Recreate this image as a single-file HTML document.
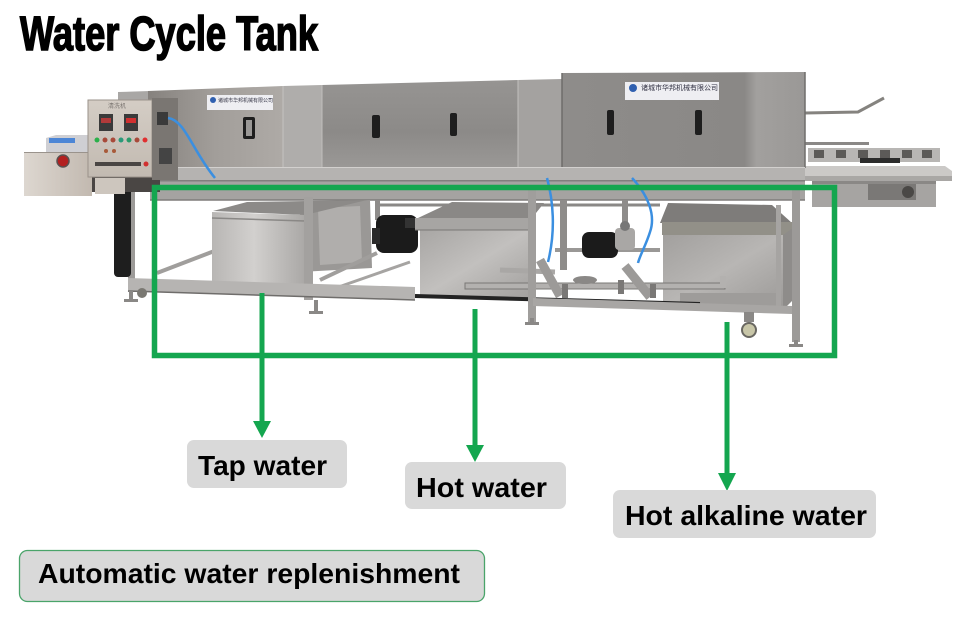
<!DOCTYPE html>
<html><head><meta charset="utf-8"><style>
html,body{margin:0;padding:0;background:#fff;}
svg{display:block;}
</style></head><body>
<svg width="955" height="621" viewBox="0 0 955 621" xmlns="http://www.w3.org/2000/svg">
<defs>
<linearGradient id="hoodA" x1="0" y1="0" x2="1" y2="0"><stop offset="0" stop-color="#86827e"/><stop offset="0.5" stop-color="#a29e9a"/><stop offset="1" stop-color="#aeaaa6"/></linearGradient>
<linearGradient id="hoodC" x1="0" y1="0" x2="0" y2="1"><stop offset="0" stop-color="#969492"/><stop offset="0.6" stop-color="#8c8a88"/><stop offset="1" stop-color="#9a9896"/></linearGradient>
<linearGradient id="hoodE" x1="0" y1="0" x2="1" y2="0"><stop offset="0" stop-color="#8e8c8a"/><stop offset="0.75" stop-color="#8a8886"/><stop offset="0.8" stop-color="#a2a09e"/><stop offset="1" stop-color="#9a9896"/></linearGradient>
<linearGradient id="tankL" x1="0" y1="0" x2="1" y2="0"><stop offset="0" stop-color="#b8b6b4"/><stop offset="0.45" stop-color="#d2d0ce"/><stop offset="1" stop-color="#aaa8a6"/></linearGradient>
<linearGradient id="tankM" x1="0" y1="0" x2="1" y2="1"><stop offset="0" stop-color="#a8a6a4"/><stop offset="0.5" stop-color="#c2c0be"/><stop offset="1" stop-color="#a2a09e"/></linearGradient>
<linearGradient id="tankR" x1="0" y1="0" x2="1" y2="1"><stop offset="0" stop-color="#a2a09e"/><stop offset="0.5" stop-color="#b8b6b4"/><stop offset="1" stop-color="#9c9a98"/></linearGradient>
<linearGradient id="panelG" x1="0" y1="0" x2="0" y2="1"><stop offset="0" stop-color="#d4cdc5"/><stop offset="1" stop-color="#c2bab1"/></linearGradient>
<linearGradient id="boxG" x1="0" y1="0" x2="1" y2="0"><stop offset="0" stop-color="#ddd7d0"/><stop offset="1" stop-color="#c2b9b0"/></linearGradient>
</defs>

<!-- Right conveyor extension -->
<polyline points="805,113 858,112 884,98" fill="none" stroke="#85837f" stroke-width="3"/>
<rect x="805" y="142" width="64" height="3" fill="#8a8886"/>
<rect x="808" y="148" width="132" height="14" fill="#b8b6b4"/>
<g fill="#5c5a58">
<rect x="814" y="150" width="10" height="8"/><rect x="836" y="150" width="10" height="8"/><rect x="858" y="150" width="10" height="8"/><rect x="880" y="150" width="10" height="8"/><rect x="902" y="150" width="10" height="8"/><rect x="922" y="150" width="10" height="8"/>
</g>
<rect x="860" y="158" width="40" height="5" fill="#2c2c2c"/>
<polygon points="800,166 945,166 952,171 952,181 800,181" fill="#cbc9c7"/>
<rect x="800" y="176" width="152" height="5" fill="#a9a7a5"/>
<rect x="812" y="181" width="124" height="26" fill="#a6a4a2"/>
<rect x="812" y="181" width="124" height="3" fill="#8a8886"/>
<rect x="868" y="184" width="48" height="16" fill="#7a7876"/>
<circle cx="908" cy="192" r="6" fill="#4a4846"/>

<!-- Hood -->
<polygon points="118,92 150,91 150,100 118,100" fill="#a9a7a5"/>
<polygon points="148,91 283,86 283,167 148,167" fill="url(#hoodA)"/>
<polygon points="283,86 322,85 322,167 283,167" fill="#afadab"/>
<polygon points="322,85 518,80 518,167 322,167" fill="url(#hoodC)"/>
<polygon points="518,80 562,79 562,167 518,167" fill="#a4a2a0"/>
<polygon points="562,73 805,72 805,168 562,168" fill="url(#hoodE)"/>
<line x1="562" y1="73" x2="562" y2="168" stroke="#6f6d6b" stroke-width="1.5"/>
<line x1="805" y1="72" x2="805" y2="168" stroke="#6f6d6b" stroke-width="1.5"/>
<line x1="283" y1="86" x2="283" y2="167" stroke="#c4c2c0" stroke-width="1"/>
<line x1="322" y1="85" x2="322" y2="167" stroke="#c0bebc" stroke-width="1"/>
<line x1="518" y1="80" x2="518" y2="167" stroke="#c2c0be" stroke-width="1"/>
<!-- logo plates -->
<rect x="207" y="95" width="66" height="15" fill="#eeeef2"/>
<circle cx="213" cy="100" r="3" fill="#3060b0"/>
<text x="218" y="102" font-family="Noto Sans CJK SC, sans-serif" font-size="5" fill="#334">诸城市华邦机械有限公司</text>
<rect x="625" y="82" width="94" height="18" fill="#eeeef2"/>
<circle cx="633" cy="88" r="4" fill="#3060b0"/>
<text x="641" y="90" font-family="Noto Sans CJK SC, sans-serif" font-size="7" fill="#334">诸城市华邦机械有限公司</text>
<!-- handles -->
<g fill="#1e1e1e">
<rect x="243" y="117" width="12" height="22" rx="2"/>
<rect x="372" y="115" width="8" height="23" rx="2"/>
<rect x="450" y="113" width="7" height="23" rx="2"/>
<rect x="607" y="110" width="7" height="25" rx="2"/>
<rect x="695" y="110" width="7" height="25" rx="2"/>
</g>
<rect x="246" y="120" width="6" height="16" fill="#9a9896"/>

<!-- Rail under hood -->
<rect x="140" y="167" width="665" height="14" fill="#b5b3b1"/>
<line x1="140" y1="167.5" x2="805" y2="167.5" stroke="#d2d0ce" stroke-width="1"/>
<line x1="140" y1="181" x2="805" y2="181" stroke="#6e6c6a" stroke-width="1.5"/>
<rect x="150" y="182" width="655" height="18" fill="#a5a3a1"/>
<line x1="150" y1="200" x2="805" y2="200" stroke="#7e7c7a" stroke-width="1.5"/>

<!-- back structure -->
<line x1="377" y1="205" x2="660" y2="205" stroke="#8a8886" stroke-width="3"/>
<line x1="555" y1="250" x2="660" y2="250" stroke="#9a9896" stroke-width="4"/>
<rect x="560" y="200" width="7" height="70" fill="#8e8c8a"/>
<rect x="622" y="200" width="6" height="40" fill="#8e8c8a"/>
<rect x="375" y="200" width="5" height="20" fill="#8e8c8a"/>

<!-- Left tank back/side -->
<polygon points="300,203 370,200 372,268 300,272" fill="#9a9896"/>
<polygon points="318,208 360,206 362,262 320,265" fill="#b0aeac"/>
<!-- diagonal frame rails -->
<line x1="157" y1="273" x2="217" y2="250" stroke="#a09e9c" stroke-width="4"/>
<line x1="320" y1="280" x2="377" y2="253" stroke="#a09e9c" stroke-width="4"/>
<line x1="330" y1="290" x2="410" y2="262" stroke="#a6a4a2" stroke-width="3"/>
<!-- Left tank -->
<polygon points="213,211 247,202 367,200 305,215" fill="#8c8a88"/>
<polygon points="212,212 305,215 305,287 212,282" fill="url(#tankL)"/>
<line x1="212" y1="218" x2="305" y2="221" stroke="#8a8886" stroke-width="1.5"/>

<!-- Motor 1 -->
<rect x="376" y="215" width="42" height="38" rx="8" fill="#1b1b1b"/>
<rect x="372" y="228" width="8" height="16" fill="#2a2a2a"/>
<rect x="405" y="218" width="14" height="10" fill="#333"/>

<!-- Middle tank -->
<polygon points="418,218 452,202 544,203 532,218" fill="#8a8886"/>
<rect x="415" y="218" width="118" height="12" fill="#a7a5a3"/>
<rect x="420" y="230" width="110" height="68" fill="url(#tankM)"/>
<line x1="415" y1="230" x2="533" y2="230" stroke="#7a7876" stroke-width="1"/>

<!-- Right tank -->
<polygon points="668,203 772,205 792,223 660,223" fill="#7e7c7a"/>
<rect x="662" y="222" width="130" height="13" fill="#929088"/>
<rect x="663" y="235" width="120" height="72" fill="url(#tankR)"/>
<polygon points="783,235 793,228 793,300 783,310" fill="#8e8c8a"/>
<rect x="680" y="293" width="100" height="15" fill="#9e9c9a"/>

<!-- Motor 2 and valves -->
<rect x="582" y="232" width="36" height="26" rx="7" fill="#1b1b1b"/>
<rect x="615" y="228" width="20" height="22" rx="4" fill="#a9a7a5"/>
<circle cx="625" cy="226" r="5" fill="#777"/>
<!-- pipes -->
<rect x="465" y="283" width="260" height="6" fill="#b3b1af" stroke="#7a7876" stroke-width="1"/>
<rect x="720" y="276" width="6" height="12" fill="#b3b1af"/>
<line x1="500" y1="270" x2="555" y2="272" stroke="#a9a7a5" stroke-width="5"/>
<line x1="540" y1="260" x2="560" y2="296" stroke="#9c9a98" stroke-width="9"/>
<line x1="625" y1="266" x2="650" y2="297" stroke="#9c9a98" stroke-width="9"/>
<ellipse cx="585" cy="280" rx="12" ry="4" fill="#8a8886"/>
<g fill="#7a7876">
<rect x="528" y="278" width="6" height="14"/><rect x="562" y="284" width="6" height="14"/>
<rect x="618" y="280" width="6" height="14"/><rect x="650" y="284" width="6" height="14"/>
</g>
<!-- black cable along bottom -->
<polyline points="415,296 560,300 700,304" fill="none" stroke="#232323" stroke-width="4"/>

<!-- front posts / legs -->
<rect x="128" y="180" width="7" height="112" fill="#9c9a98"/>
<rect x="304" y="197" width="9" height="103" fill="#a3a19f"/>
<rect x="528" y="190" width="8" height="132" fill="#a09e9c"/>
<rect x="792" y="190" width="8" height="152" fill="#9c9a98"/>
<rect x="776" y="205" width="5" height="105" fill="#a6a4a2"/>
<!-- front bottom rail -->
<polygon points="128,278 415,287 415,300 128,291" fill="#b6b4b2"/>
<line x1="128" y1="291" x2="415" y2="300" stroke="#6f6d6b" stroke-width="1.5"/>
<polygon points="533,298 792,306 792,314 533,306" fill="#a8a6a4"/>
<!-- feet -->
<g fill="#8a8886">
<rect x="129" y="291" width="4" height="10"/><rect x="124" y="299" width="14" height="3"/>
<rect x="314" y="300" width="4" height="12"/><rect x="309" y="311" width="14" height="3"/>
<rect x="530" y="318" width="4" height="6"/><rect x="525" y="322" width="14" height="3"/>
<rect x="794" y="340" width="4" height="5"/><rect x="789" y="344" width="14" height="3"/>
</g>
<!-- casters -->
<circle cx="142" cy="293" r="5" fill="#7a7872"/>
<rect x="744" y="312" width="10" height="10" fill="#8a8886"/>
<circle cx="749" cy="330" r="7" fill="#c8c6a8" stroke="#6a6862" stroke-width="2"/>

<!-- Blue hoses -->
<path d="M547,178 C553,200 556,230 548,262" fill="none" stroke="#3b8fe0" stroke-width="2.5"/>
<path d="M632,178 C648,195 656,215 650,232 C646,245 640,255 638,263" fill="none" stroke="#3b8fe0" stroke-width="2.5"/>

<!-- Left control area -->
<rect x="114" y="183" width="17" height="94" rx="4" fill="#1e1e1e"/>
<rect x="92" y="176" width="68" height="16" fill="#4a4644"/>
<rect x="95" y="178" width="30" height="16" fill="#cdc6be"/>
<!-- left box -->
<polygon points="46,138 56,135 90,135 90,153 46,153" fill="#cfcfd3"/>
<rect x="49" y="138" width="26" height="5" fill="#4c86d6"/>
<rect x="24" y="152" width="68" height="44" fill="url(#boxG)"/>
<line x1="24" y1="152.5" x2="92" y2="152.5" stroke="#9a938c" stroke-width="1"/>
<circle cx="63" cy="161" r="6" fill="#b32020" stroke="#5a5050" stroke-width="1.5"/>
<!-- panel -->
<rect x="88" y="100" width="64" height="77" fill="url(#panelG)" stroke="#9a928a" stroke-width="1"/>
<text x="108" y="108" font-family="Noto Sans CJK SC, sans-serif" font-size="6" fill="#7a7470">清洗机</text>
<rect x="99" y="114" width="14" height="17" fill="#3a3a3a"/>
<rect x="101" y="118" width="10" height="5" fill="#b03a3a"/>
<rect x="124" y="114" width="14" height="17" fill="#3a3a3a"/>
<rect x="126" y="118" width="10" height="5" fill="#d03030"/>
<g>
<circle cx="97" cy="140" r="2.5" fill="#2bb04a"/><circle cx="105" cy="140" r="2.5" fill="#a84a3a"/><circle cx="113" cy="140" r="2.5" fill="#a84a3a"/><circle cx="121" cy="140" r="2.5" fill="#2a9a7a"/><circle cx="129" cy="140" r="2.5" fill="#2a9a6a"/><circle cx="137" cy="140" r="2.5" fill="#a84a3a"/><circle cx="145" cy="140" r="2.5" fill="#e03030"/>
<circle cx="106" cy="151" r="2" fill="#a85a3a"/><circle cx="114" cy="151" r="2" fill="#a85a3a"/>
<rect x="95" y="162" width="46" height="4" fill="#4a4644"/><circle cx="146" cy="164" r="2.5" fill="#d03030"/>
</g>
<!-- side box -->
<rect x="152" y="98" width="26" height="82" fill="#7a7672"/>
<rect x="157" y="112" width="11" height="13" fill="#3a3a3a"/>
<rect x="159" y="148" width="13" height="16" fill="#444"/>
<path d="M168,118 C185,120 192,150 215,178" fill="none" stroke="#3b8fe0" stroke-width="2.5"/>

<!-- Green frame & arrows -->
<rect x="154.5" y="187.5" width="680" height="168" fill="none" stroke="#14a64f" stroke-width="5.5"/>
<g fill="#14a64f">
<rect x="259.5" y="293" width="5" height="130"/>
<polygon points="253,421 271,421 262,438"/>
<rect x="472.5" y="309" width="5" height="138"/>
<polygon points="466,445 484,445 475,462"/>
<rect x="724.5" y="322" width="5" height="153"/>
<polygon points="718,473 736,473 727,491"/>
</g>

<!-- Labels -->
<g font-family="Liberation Sans, Arial, sans-serif" font-weight="bold" font-size="28" fill="#000">
<rect x="187" y="440" width="160" height="48" rx="7" fill="#d9d9d9"/>
<text x="198" y="475" textLength="129" lengthAdjust="spacingAndGlyphs">Tap water</text>
<rect x="405" y="462" width="161" height="47" rx="7" fill="#d9d9d9"/>
<text x="416" y="497" textLength="131" lengthAdjust="spacingAndGlyphs">Hot water</text>
<rect x="613" y="490" width="263" height="48" rx="7" fill="#d9d9d9"/>
<text x="625" y="525" textLength="242" lengthAdjust="spacingAndGlyphs">Hot alkaline water</text>
<rect x="19.5" y="550.5" width="465" height="51" rx="8" fill="#d9d9d9" stroke="#4aa46a" stroke-width="1.3"/>
<text x="38" y="583" textLength="422" lengthAdjust="spacingAndGlyphs">Automatic water replenishment</text>
</g>

<!-- Title -->
<text x="20" y="50" font-family="Liberation Sans, Arial, sans-serif" font-weight="bold" font-size="48" fill="#000" stroke="#000" stroke-width="1.6" textLength="298" lengthAdjust="spacingAndGlyphs">Water Cycle Tank</text>
</svg>
</body></html>
